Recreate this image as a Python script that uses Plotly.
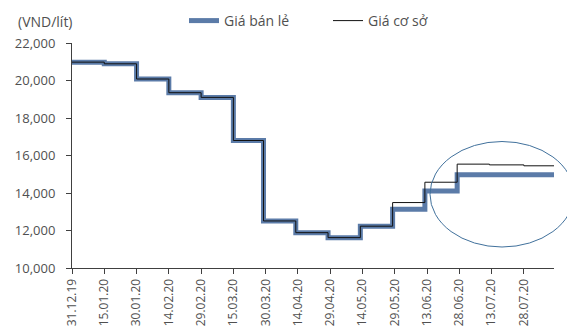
import plotly.graph_objects as go

# Step change dates and values
retail_dates = ["2019-12-31", "2020-01-15", "2020-01-30", "2020-02-14", "2020-02-29",
                "2020-03-15", "2020-03-29", "2020-04-13", "2020-04-28", "2020-05-13",
                "2020-05-28", "2020-06-12", "2020-06-27", "2020-08-11"]
retail_values = [20980, 20890, 20080, 19350, 19100,
                 16800, 12510, 11885, 11620, 12230,
                 13135, 14110, 14970, 14970]

base_dates = ["2019-12-31", "2020-01-15", "2020-01-30", "2020-02-14", "2020-02-29",
              "2020-03-15", "2020-03-29", "2020-04-13", "2020-04-28", "2020-05-13",
              "2020-05-28", "2020-06-12", "2020-06-27", "2020-07-12", "2020-07-28", "2020-08-11"]
base_values = [20980, 20890, 20080, 19350, 19100,
               16800, 12510, 11885, 11620, 12230,
               13490, 14575, 15540, 15500, 15450, 15450]

tick_dates = ["2019-12-31", "2020-01-15", "2020-01-30", "2020-02-14", "2020-02-29",
              "2020-03-15", "2020-03-30", "2020-04-14", "2020-04-29", "2020-05-14",
              "2020-05-29", "2020-06-13", "2020-06-28", "2020-07-13", "2020-07-28"]
tick_labels = ["31.12.19", "15.01.20", "30.01.20", "14.02.20", "29.02.20",
               "15.03.20", "30.03.20", "14.04.20", "29.04.20", "14.05.20",
               "29.05.20", "13.06.20", "28.06.20", "13.07.20", "28.07.20"]

y_ticks = [10000, 12000, 14000, 16000, 18000, 20000, 22000]

FONT = "Open Sans"
TXT = "#505050"

fig = go.Figure()
fig.add_trace(go.Scatter(x=retail_dates, y=retail_values, mode="lines", name="Giá bán lẻ",
                         line=dict(color="#5b7ba8", width=5, shape="hv")))
fig.add_trace(go.Scatter(x=base_dates, y=base_values, mode="lines", name="Giá cơ sở",
                         line=dict(color="#111111", width=1, shape="hv")))

# page body has an 8px margin: figure occupies window x 8..575, y 8..330
OFF = 8
W, H = 575 - OFF, 330 - OFF
# plot area in window pixels: x 72..554, y 43..268
L, T = 72 - OFF, 43 - OFF
R, B = W - (554 - OFF), H - (268 - OFF)
pw, ph = W - L - R, H - T - B

def px(xw):
    return (xw - OFF - L) / pw

def py(yw):
    return (H - B - (yw - OFF)) / ph

fig.update_layout(
    width=W, height=H,
    margin=dict(l=L, r=R, t=T, b=B, autoexpand=False),
    paper_bgcolor="white", plot_bgcolor="white",
    font=dict(family=FONT, size=13, color=TXT),
    showlegend=True,
    legend=dict(orientation="h", x=px(184), y=py(21), xanchor="left", yanchor="middle",
                xref="paper", yref="paper", entrywidth=99, entrywidthmode="pixels",
                font=dict(family=FONT, size=14, color=TXT), bgcolor="rgba(0,0,0,0)",
                traceorder="normal"),
    xaxis=dict(type="date", range=["2019-12-31", "2020-08-11"],
               tickvals=tick_dates, ticktext=tick_labels, tickangle=-90,
               ticks="outside", ticklen=5, tickcolor="#404040",
               showline=True, linecolor="#404040", linewidth=1,
               showgrid=False, zeroline=False, automargin=False,
               tickfont=dict(family=FONT, size=12, color=TXT)),
    yaxis=dict(range=[10000, 22000], tickvals=y_ticks, tickformat=",d",
               ticks="outside", ticklen=5, tickcolor="#404040",
               showline=True, linecolor="#404040", linewidth=1,
               showgrid=False, zeroline=False, automargin=False,
               ticklabelstandoff=8,
               tickfont=dict(family=FONT, size=13, color=TXT)),
)

fig.add_annotation(text="(VND/lít)", xref="paper", yref="paper", x=px(16), y=py(21),
                   xanchor="left", yanchor="middle", showarrow=False,
                   font=dict(family=FONT, size=14, color=TXT))

fig.add_shape(type="circle", xref="paper", yref="paper",
              x0=px(430), x1=px(574), y0=py(247), y1=py(141.5),
              line=dict(color="#41719c", width=1), fillcolor="rgba(0,0,0,0)")

fig.write_html("out.html")
